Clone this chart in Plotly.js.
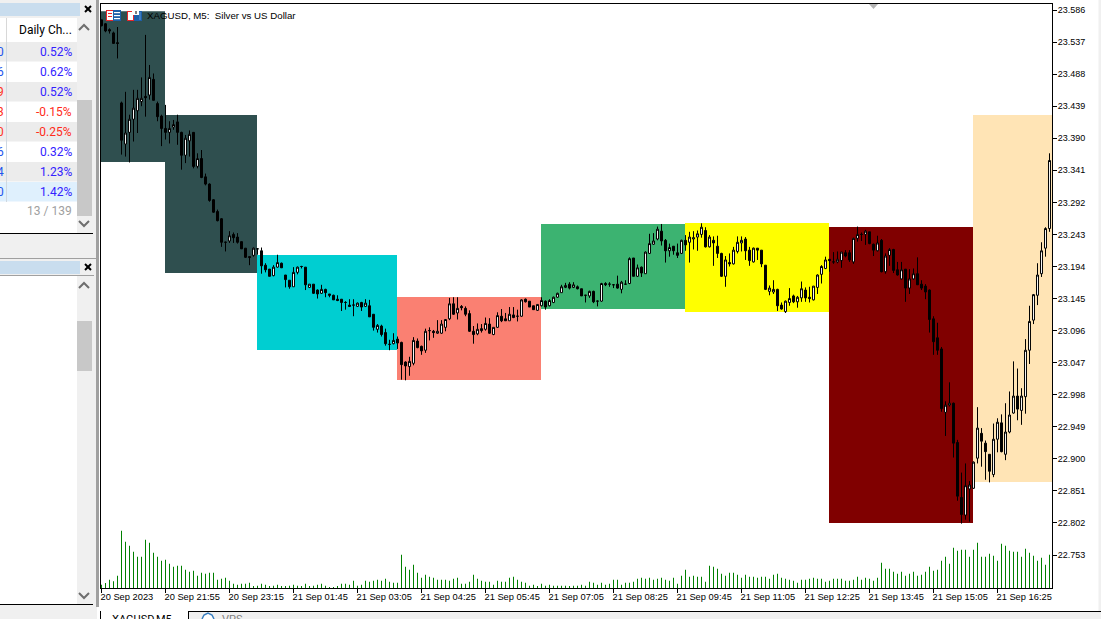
<!DOCTYPE html>
<html><head><meta charset="utf-8">
<script src="https://cdn.plot.ly/plotly-3.0.1.min.js"></script>
<style>html,body{margin:0;padding:0;background:#fff;overflow:hidden}#c{width:1101px;height:619px}</style>
</head><body><div id="c"></div>
<script>
const openP=[23.571,23.565,23.556,23.551,23.536,23.444,23.381,23.399,23.419,23.432,
23.446,23.454,23.456,23.480,23.443,23.424,23.405,23.399,23.407,23.415,
23.399,23.364,23.386,23.399,23.347,23.359,23.331,23.320,23.296,23.278,
23.267,23.231,23.233,23.243,23.239,23.232,23.222,23.209,23.211,
23.221,23.218,23.196,23.190,23.180,23.193,23.199,23.181,23.173,23.163,23.185,
23.194,23.193,23.162,23.167,23.158,23.153,23.159,23.152,23.150,23.144,
23.144,23.139,23.135,23.135,23.133,23.139,23.133,23.134,23.121,23.098,
23.103,23.093,23.075,23.076,23.083,23.078,23.048,23.041,23.046,23.080,
23.072,23.066,23.096,23.095,23.092,23.092,23.101,23.114,23.137,23.123,
23.133,23.130,23.122,23.095,23.091,23.099,23.098,23.106,23.090,23.101,
23.118,23.114,23.111,23.120,23.118,23.118,23.144,23.141,23.134,23.127,
23.134,23.141,23.134,23.139,23.147,23.154,23.162,23.167,23.162,23.163,
23.160,23.150,23.149,23.156,23.141,23.141,23.168,23.167,23.166,23.167,
23.159,23.167,23.168,23.207,23.179,23.193,23.183,23.214,23.228,23.236,
23.248,23.234,23.218,23.225,23.215,23.214,23.234,23.231,23.236,23.239,
23.243,23.249,23.224,23.234,23.225,23.214,23.179,23.200,23.198,23.217,
23.230,23.236,23.219,23.201,23.222,23.219,23.196,23.156,23.155,23.159,
23.135,23.125,23.139,23.149,23.140,23.146,23.158,23.147,23.143,23.162,
23.182,23.191,23.205,23.201,23.201,23.203,23.215,23.215,23.201,23.237,
23.243,23.243,23.247,23.228,23.218,23.234,23.186,23.211,23.220,23.189,
23.175,23.190,23.161,23.175,23.183,23.167,23.164,23.158,23.114,23.085,
23.068,22.971,22.982,22.985,22.925,22.841,22.814,22.854,22.855,22.901,
22.939,22.924,22.907,22.876,22.930,22.955,22.907,22.941,22.970,22.996,
22.974,22.995,23.066,23.112,23.150,23.183,23.222,23.252];
const highP=[23.571,23.566,23.558,23.553,23.560,23.446,23.461,23.426,23.464,23.464,
23.483,23.548,23.502,23.489,23.446,23.426,23.441,23.416,23.418,23.426,
23.400,23.395,23.402,23.399,23.367,23.372,23.336,23.321,23.297,23.281,
23.268,23.232,23.248,23.246,23.245,23.232,23.222,23.209,23.223,
23.222,23.223,23.199,23.190,23.196,23.212,23.200,23.181,23.173,23.193,23.194,
23.195,23.193,23.167,23.167,23.159,23.166,23.160,23.152,23.151,23.150,
23.144,23.141,23.144,23.144,23.139,23.140,23.144,23.143,23.121,23.106,
23.105,23.099,23.082,23.092,23.087,23.079,23.049,23.056,23.086,23.084,
23.073,23.099,23.101,23.097,23.112,23.112,23.113,23.146,23.147,23.147,
23.135,23.133,23.127,23.103,23.107,23.106,23.116,23.115,23.101,23.124,
23.129,23.123,23.132,23.132,23.128,23.144,23.145,23.141,23.134,23.136,
23.147,23.142,23.144,23.148,23.154,23.166,23.169,23.170,23.170,23.165,
23.160,23.150,23.157,23.157,23.142,23.169,23.170,23.170,23.167,23.180,
23.172,23.173,23.208,23.207,23.197,23.194,23.217,23.244,23.245,23.255,
23.259,23.236,23.229,23.225,23.229,23.235,23.242,23.247,23.248,23.249,
23.260,23.254,23.242,23.240,23.241,23.215,23.210,23.214,23.224,23.240,
23.240,23.239,23.224,23.223,23.222,23.219,23.196,23.165,23.173,23.160,
23.139,23.142,23.161,23.151,23.149,23.171,23.162,23.163,23.164,23.182,
23.196,23.209,23.205,23.216,23.217,23.216,23.219,23.219,23.238,23.255,
23.246,23.250,23.247,23.229,23.241,23.236,23.214,23.222,23.221,23.201,
23.201,23.190,23.190,23.191,23.208,23.173,23.167,23.159,23.118,23.108,
23.071,22.988,23.017,22.986,22.929,22.879,22.893,22.866,22.896,22.979,
22.947,22.928,22.907,22.954,22.962,22.968,22.985,23.003,23.049,23.038,
23.008,23.083,23.134,23.152,23.199,23.231,23.254,23.367];
const lowP=[23.561,23.552,23.550,23.535,23.512,23.365,23.362,23.353,23.385,23.398,
23.439,23.423,23.449,23.448,23.416,23.378,23.388,23.382,23.403,23.380,
23.342,23.352,23.362,23.344,23.344,23.329,23.318,23.293,23.276,23.263,
23.224,23.217,23.230,23.230,23.229,23.221,23.207,23.196,23.209,
23.212,23.183,23.185,23.179,23.179,23.192,23.192,23.162,23.160,23.163,23.182,
23.191,23.158,23.161,23.152,23.145,23.152,23.147,23.147,23.143,23.141,
23.126,23.128,23.132,23.118,23.132,23.126,23.132,23.117,23.096,23.093,
23.087,23.073,23.066,23.075,23.068,23.021,23.020,23.027,23.043,23.069,
23.059,23.062,23.081,23.085,23.091,23.091,23.095,23.112,23.120,23.113,
23.127,23.118,23.094,23.076,23.089,23.093,23.096,23.091,23.089,23.100,
23.109,23.111,23.111,23.115,23.110,23.117,23.139,23.132,23.128,23.126,
23.133,23.128,23.133,23.138,23.146,23.154,23.161,23.159,23.161,23.159,
23.149,23.139,23.146,23.138,23.133,23.140,23.164,23.163,23.161,23.160,
23.153,23.166,23.167,23.179,23.178,23.178,23.183,23.213,23.227,23.234,
23.226,23.200,23.209,23.212,23.207,23.213,23.218,23.200,23.220,23.218,
23.238,23.223,23.223,23.195,23.207,23.178,23.163,23.194,23.197,23.214,
23.217,23.204,23.195,23.200,23.204,23.193,23.158,23.150,23.152,23.126,
23.128,23.123,23.134,23.138,23.131,23.140,23.140,23.139,23.142,23.152,
23.168,23.190,23.186,23.198,23.199,23.192,23.208,23.201,23.198,23.232,
23.233,23.227,23.228,23.210,23.217,23.185,23.183,23.195,23.184,23.180,
23.174,23.140,23.152,23.174,23.166,23.158,23.144,23.093,23.059,23.059,
22.972,22.935,22.980,22.902,22.836,22.801,22.807,22.804,22.854,22.893,
22.888,22.868,22.864,22.872,22.910,22.910,22.898,22.939,22.969,22.959,
22.952,22.969,23.045,23.106,23.135,23.178,23.209,23.247];
const closeP=[23.562,23.554,23.554,23.535,23.535,23.387,23.398,23.419,23.436,23.451,
23.451,23.452,23.483,23.448,23.423,23.405,23.399,23.405,23.411,23.399,
23.364,23.390,23.396,23.347,23.359,23.330,23.320,23.295,23.277,23.264,
23.231,23.231,23.241,23.238,23.231,23.221,23.208,23.208,23.222,
23.221,23.195,23.189,23.179,23.193,23.200,23.192,23.174,23.163,23.185,23.193,
23.194,23.166,23.167,23.153,23.152,23.159,23.154,23.150,23.143,23.142,
23.139,23.139,23.133,23.135,23.138,23.132,23.138,23.117,23.101,23.104,
23.090,23.076,23.075,23.081,23.077,23.044,23.042,23.049,23.081,23.070,
23.065,23.095,23.096,23.093,23.095,23.106,23.113,23.137,23.121,23.130,
23.131,23.121,23.095,23.090,23.098,23.096,23.107,23.092,23.101,23.119,
23.111,23.111,23.121,23.116,23.118,23.143,23.140,23.132,23.128,23.136,
23.142,23.132,23.142,23.147,23.153,23.163,23.165,23.161,23.166,23.160,
23.149,23.150,23.156,23.140,23.141,23.168,23.166,23.167,23.166,23.161,
23.170,23.167,23.206,23.179,23.192,23.184,23.216,23.229,23.233,23.251,
23.233,23.218,23.223,23.218,23.211,23.234,23.227,23.239,23.238,23.244,
23.254,23.224,23.239,23.230,23.214,23.179,23.204,23.198,23.219,23.231,
23.234,23.218,23.203,23.222,23.219,23.198,23.159,23.161,23.159,23.134,
23.129,23.141,23.145,23.140,23.147,23.160,23.146,23.145,23.164,23.181,
23.194,23.204,23.203,23.201,23.205,23.216,23.210,23.204,23.237,23.243,
23.243,23.248,23.229,23.219,23.230,23.186,23.210,23.220,23.188,23.181,
23.189,23.161,23.175,23.183,23.166,23.161,23.155,23.113,23.079,23.066,
22.977,22.982,22.985,22.924,22.843,22.815,22.859,22.860,22.895,22.947,
22.927,22.911,22.881,22.930,22.956,22.911,22.941,22.967,22.996,22.976,
22.996,23.066,23.110,23.151,23.181,23.218,23.252,23.356];
const tickVolume=[20,30,50,40,74,344,278,254,218,188,
188,290,272,212,188,164,170,146,128,134,
134,110,98,104,74,92,86,92,92,50,
56,62,44,26,20,26,26,32,8,14,
26,20,8,14,20,8,8,14,20,14,
8,26,8,14,20,26,14,2,2,8,
26,26,20,44,14,20,44,38,44,50,
44,56,38,32,32,200,128,110,140,92,
62,80,68,62,50,50,50,44,56,62,
26,26,38,80,56,44,38,38,20,44,
38,38,62,68,50,38,32,14,20,8,
26,14,20,14,14,14,14,8,14,14,
20,14,38,32,20,32,20,26,50,50,
20,32,32,38,56,62,56,62,50,56,
62,50,44,62,26,74,110,68,74,68,
68,38,134,128,116,86,74,92,92,80,
62,80,68,68,62,68,68,56,80,86,
62,56,50,44,32,50,50,56,62,56,
56,38,44,56,56,56,44,44,50,68,
50,62,56,44,62,152,116,116,98,86,
98,74,86,98,74,80,98,128,104,110,
164,188,146,242,224,230,230,188,230,272,
188,188,206,194,164,266,254,224,218,218,
188,236,212,194,164,182,140,200];
const priceTicks=[23.586,23.537,23.488,23.439,23.390,23.341,23.292,23.243,23.194,23.145,23.096,23.047,22.998,22.949,22.900,22.851,22.802,22.753];
const timeLabels=['20 Sep 2023','20 Sep 21:55','20 Sep 23:15','21 Sep 01:45','21 Sep 03:05','21 Sep 04:25','21 Sep 05:45','21 Sep 07:05','21 Sep 08:25','21 Sep 09:45','21 Sep 11:05','21 Sep 12:25','21 Sep 13:45','21 Sep 15:05','21 Sep 16:25'];
const timeLabelBars=[0,16,32,48,64,80,96,112,128,144,160,176,192,208,224];
const zoneStart=[0,16,39,74,110,146,182,218];
const zoneEnd=[16,39,74,110,146,182,218,238];
const zoneTop=[23.584,23.4255,23.2116,23.1473,23.2589,23.2605,23.2543,23.4255];
const zoneBottom=[23.3537,23.184,23.0664,23.0205,23.129,23.1244,22.8019,22.8646];
const zoneColors=['#2f4f4f','#2f4f4f','#00ced1','#fa8072','#3cb371','#ffff00','#800000','#ffe4b5'];
const watchValues=['0.52%','0.62%','0.52%','-0.15%','-0.25%','0.32%','1.23%','1.42%'];
const watchPrev=['0','6','9','3','0','6','4','0'];

const L=101,R=1052,T=4,B=588,W=1101,H=619,HALF=0.125;
const px=x=>(x-L)/(R-L), py=y=>(B-y)/(B-T);
const bars=openP.map((_,i)=>i);
const shapes=[],ann=[];
const rect=(x0,y0,x1,y1,c,lc,lw)=>shapes.push({type:'rect',xref:'paper',yref:'paper',x0:px(x0),x1:px(x1),y0:py(y0),y1:py(y1),fillcolor:c,line:{width:lw||0,color:lc||c},layer:'below'});
const path=(d,fill,line,lw)=>shapes.push({type:'path',xref:'paper',yref:'paper',path:d.replace(/(-?[\d.]+),(-?[\d.]+)/g,(m,a,b)=>px(+a)+','+py(+b)),fillcolor:fill||'rgba(0,0,0,0)',line:{color:line||'rgba(0,0,0,0)',width:lw||0},layer:'above'});
const txt=(x,y,t,c,s,a,f)=>ann.push({xref:'paper',yref:'paper',x:px(x),y:py(y),text:t,showarrow:false,xanchor:a||'left',yanchor:'middle',font:{color:c,size:s,family:f||'Roboto'},borderpad:0,borderwidth:0});
const chev=(x,y,up)=>path(up?`M${x-5},${y+3} L${x},${y-2} L${x+5},${y+3}`:`M${x-5},${y-3} L${x},${y+2} L${x+5},${y-3}`,null,'#6e6e6e',2);

zoneStart.forEach((s,i)=>shapes.push({type:'rect',xref:'x',yref:'y',x0:s-HALF,x1:zoneEnd[i]-HALF,y0:zoneBottom[i],y1:zoneTop[i],fillcolor:zoneColors[i],line:{width:0},layer:'below'}));

// left panels
rect(0,0,97,619,'#f0f0f0');
rect(96,0,99,607,'#a0a0a0');
rect(99,0,101,611,'#ffffff');
rect(0,3,80,16,'#c9ddee');
rect(0,18,77,233,'#ffffff');
rect(77,18,92,233,'#f0f0f0');
rect(77,100,92,216,'#c8c8c8');
watchValues.forEach((v,i)=>{
  const y=42+20*i;
  rect(0,y,77,y+19.5,i==7?'#dff0fd':(i%2==0?'#ececec':'#ffffff'));
  const neg=v[0]=='-';
  rect(6,y,7,y+20,'#cfd8e0');
  txt(72,y+10,v,neg?'#ff2a1a':'#3322ff',12,'right');
  txt(3.5,y+10,watchPrev[i],(i==2||i==3||i==4)?'#ff3322':'#2255ee',12,'right');
});
rect(6,18,7,42,'#d8d8d8');
txt(72,30,'Daily Ch...','#000000',12,'right');
txt(72,211,'13 / 139','#a0a0a0',12,'right');
chev(84,27,true);chev(84,224,false);
rect(0,233,93,234,'#000000');
rect(0,258,96,259,'#a0a0a0');
rect(0,261,80,274,'#c9ddee');
rect(0,275,94,276,'#a0a0a0');
rect(0,276,77,604,'#ffffff');
rect(77,276,92,604,'#f0f0f0');
rect(77,321,92,371,'#c8c8c8');
chev(84,285,true);chev(84,596,false);
rect(0,604,93,605,'#000000');
const xmark=(x,y)=>{path(`M${x-3},${y-3} L${x+3},${y+3}`,null,'#000',2);path(`M${x+3},${y-3} L${x-3},${y+3}`,null,'#000',2);};
xmark(88,9);xmark(88,267);

// right strip and tabs
rect(1098.5,0,1101,619,'#f0f0f0');
rect(101,611,1101,619,'#f0f0f0');
rect(100,611,188,619,'#ffffff');
rect(188,611,1101,612,'#000000');
rect(100,611,101,619,'#000000');
rect(188,611,189,619,'#000000');
txt(112,619,'XAGUSD,M5','#000',11);
txt(222,619,'VPS','#808080',11);
path('M202,619 L204,615 L208,613 L212,615 L214,619','#ffffff','#3a7fc0',1.5);

// chart icons and title
const iconR=(x0,y0,x1,y1,c)=>shapes.push({type:'rect',xref:'paper',yref:'paper',x0:px(x0),x1:px(x1),y0:py(y0),y1:py(y1),fillcolor:c,line:{width:0},layer:'above'});
iconR(106,10,121,21,'#e8262a');iconR(107,11,113,20,'#ffffff');iconR(113,10,121,21,'#1d5fa8');
[12,15,18].forEach(y=>iconR(114,y,120,y+1.2,'#ffffff'));
[13,16].forEach(y=>iconR(108,y,112,y+1,'#e8262a'));
iconR(127,11,142,21,'#1d5fa8');iconR(127,11,134,21,'#e8262a');iconR(128,12,133,20,'#ffffff');iconR(132,10,139,15,'#ffffff');iconR(139,12,141,20,'#3d7cc0');iconR(135,11,137,14,'#808080');
txt(147,15,'XAGUSD, M5:&nbsp;&nbsp;Silver vs US Dollar','#000000',9.7,'left','Liberation Sans');
path('M869,4 L878,4 L873.5,9 Z','#b4b4b4');

const zeroline=false;
const traces=[
 {type:'bar',x:bars,y:tickVolume,yaxis:'y2',width:0.25,marker:{color:'#008000',line:{width:0}},hoverinfo:'skip',showlegend:false},
 {type:'candlestick',x:bars,open:openP,high:highP,low:lowP,close:closeP,whiskerwidth:0,hoverinfo:'skip',showlegend:false,
  increasing:{line:{color:'#000000',width:1},fillcolor:'#ffffff'},
  decreasing:{line:{color:'#000000',width:1},fillcolor:'#000000'}}
];
const layout={
 width:W,height:H,margin:{l:L,r:W-R,t:T,b:H-B,pad:0},paper_bgcolor:'#ffffff',plot_bgcolor:'rgba(255,255,255,0)',
 showlegend:false,dragmode:false,hovermode:false,shapes:shapes,annotations:ann,
 xaxis:{type:'linear',range:[-HALF,(R-L)/4-HALF],rangeslider:{visible:false},showgrid:false,zeroline,showline:true,mirror:true,linecolor:'#000',linewidth:1,
  tickmode:'array',tickvals:timeLabelBars,ticktext:timeLabels,ticks:'outside',ticklen:4,tickcolor:'#000',tickwidth:1,ticklabelposition:'outside right',ticklabelshift:-2,
  tickangle:0,tickfont:{family:'Liberation Sans',size:9.3,color:'#000'},fixedrange:true},
 yaxis:{side:'right',range:[22.7026,23.5952],showgrid:false,zeroline,showline:true,mirror:true,linecolor:'#000',linewidth:1,
  tickmode:'array',tickvals:priceTicks,ticktext:priceTicks.map(v=>v.toFixed(3)),ticks:'outside',ticklen:4,tickcolor:'#000',tickwidth:1,ticklabelstandoff:-1,
  tickfont:{family:'Liberation Sans',size:9,color:'#000'},fixedrange:true},
 yaxis2:{overlaying:'y',side:'left',range:[0,3504],visible:false,showgrid:false,zeroline,fixedrange:true}
};
Plotly.newPlot('c',traces,layout,{displayModeBar:false});
</script></body></html>
